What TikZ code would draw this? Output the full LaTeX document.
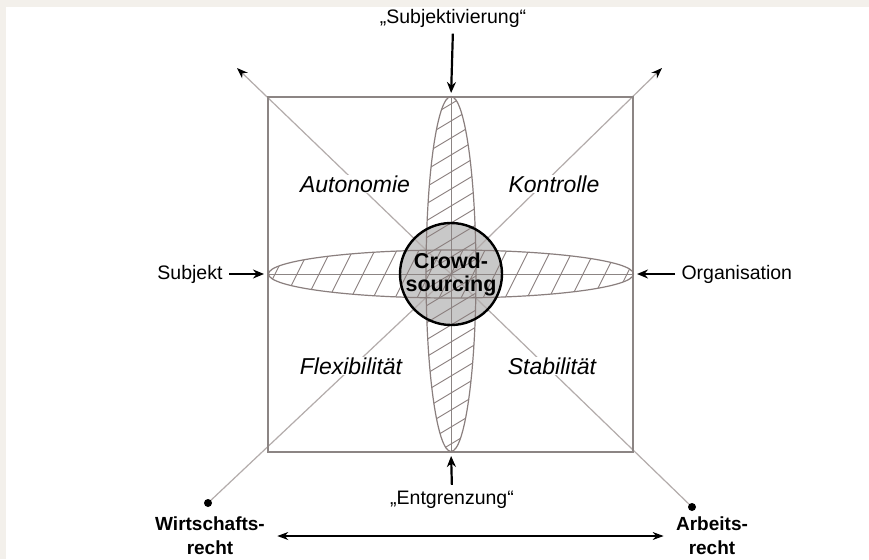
\documentclass[tikz,border=0pt]{standalone}
\usepackage{fontspec}
\setmainfont{Liberation Sans}
\usetikzlibrary{arrows.meta}
\definecolor{framegray}{HTML}{8C8584}
\definecolor{diaggray}{HTML}{B3ACAB}
\definecolor{hatchgray}{HTML}{8A7F7E}
\definecolor{coregray}{HTML}{C8C8C8}
\definecolor{pagebeige}{HTML}{F3F0EB}

\begin{document}
\begin{tikzpicture}[x=1pt,y=-1pt,line width=1pt,
  dimlabel/.style={font=\fontsize{23}{23}\selectfont\itshape,fill=white,inner sep=1pt},
  sidelabel/.style={font=\fontsize{19.5}{20}\selectfont,inner sep=1pt},
  lawlabel/.style={font=\fontsize{19}{24}\selectfont\bfseries,align=center,inner sep=0pt},
  push/.style={-{Stealth[length=11pt,width=9pt]},line width=2.2pt,shorten <=5pt,shorten >=4pt},
  hatch/.style={hatchgray,line width=.9pt}]
% page
\fill[pagebeige] (0,0) rectangle (869,559);
\fill[white] (6,7) rectangle (869,559);
\useasboundingbox (0,0) rectangle (869,559);
\coordinate (c) at (451,274);
\coordinate (nw) at (268,97);
\coordinate (se) at (633,452);
\coordinate (tl) at (237,68);
\coordinate (tr) at (662,68);
\coordinate (bl) at (208,503);
\coordinate (br) at (692,507);
% core
\fill[coregray] (c) circle [radius=51];
% diagonals
\draw[diaggray,line width=1.2pt,-{Stealth[length=11pt,width=8pt,color=black]}] (c) -- (tl);
\draw[diaggray,line width=1.2pt,-{Stealth[length=11pt,width=8pt,color=black]}] (c) -- (tr);
\draw[diaggray,line width=1.2pt] (c) -- (bl) (c) -- (br);
\fill (bl) circle [radius=4];
\fill (br) circle [radius=4];
% square and axes
\draw[framegray,line width=1.5pt] (nw) rectangle (se);
\draw[framegray] (nw |- c) -- (se |- c) (c |- nw) -- (c |- se);
% petals
\draw[hatchgray,line width=1.2pt] (c) ellipse [x radius=25,y radius=177.5];
\draw[hatchgray,line width=1.2pt] (c) ellipse [x radius=182.5,y radius=24];
\begin{scope}
\clip (c) ellipse [x radius=25,y radius=177.5];
\foreach \k in {-12,...,12}
  \draw[hatch] (421,274+\k*17+18) -- (481,274+\k*17-18);
\end{scope}
\begin{scope}
\clip (c) ellipse [x radius=182.5,y radius=24];
\foreach \k in {-9,...,9}
  \draw[hatch] (451+\k*22-13,300) -- (451+\k*22+13,248);
\end{scope}
\draw[line width=2.4pt] (c) circle [radius=51];
\node[font=\fontsize{21.5}{23}\selectfont\bfseries,align=center,inner sep=0pt] (crowd) at (c) {Crowd-\\sourcing};
% quadrants
\node[dimlabel] (auto) at (355,184) {Autonomie};
\node[dimlabel] (kont) at (554,184) {Kontrolle};
\node[dimlabel] (flex) at (351,366) {Flexibilität};
\node[dimlabel] (stab) at (552,366) {Stabilität};
% pressures
\node[sidelabel] (subj) at (453,18) {„Subjektivierung“};
\node[sidelabel] (entg) at (452,500) {„Entgrenzung“};
\node[sidelabel,anchor=east] (subk) at (224,274) {Subjekt};
\node[sidelabel,anchor=west] (orga) at (680,274) {Organisation};
\draw[push] (subj.south) -- (c |- nw);
\draw[push] (entg.north) -- (c |- se);
\draw[push] (subk.east) -- (nw |- c);
\draw[push] (orga.west) -- (se |- c);
% law
\node[lawlabel] (wirt) at (210,536) {Wirtschafts-\\recht};
\node[lawlabel] (arbe) at (712,536) {Arbeits-\\recht};
\draw[{Stealth[length=11pt,width=8pt]}-{Stealth[length=11pt,width=8pt]},line width=1.2pt,shorten <=12pt,shorten >=12pt] (wirt.east) -- (arbe.west);
\end{tikzpicture}
\end{document}
